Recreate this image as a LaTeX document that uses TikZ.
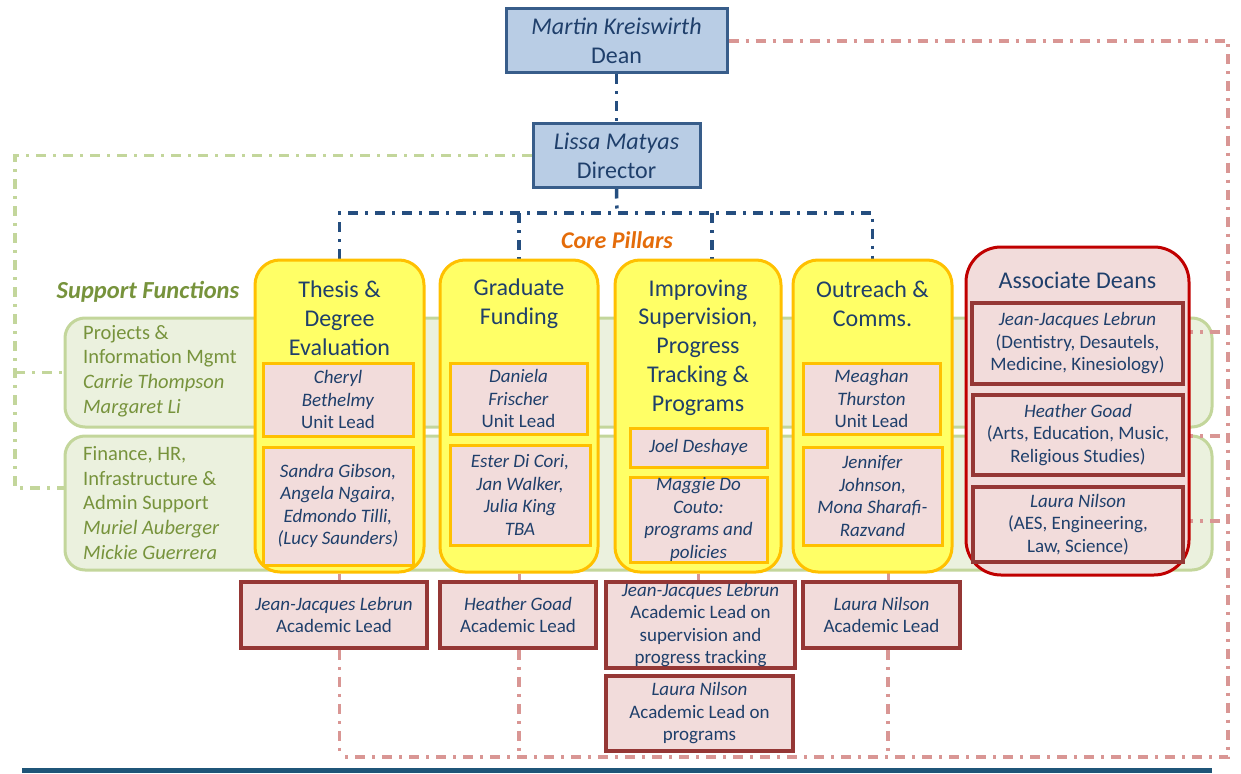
\documentclass[tikz,border=0pt]{standalone}
\usepackage{fontspec}
\setmainfont{Carlito}
\usetikzlibrary{calc}
\pgfdeclarelayer{back}
\pgfdeclarelayer{mid}
\pgfsetlayers{back,mid,main}
\definecolor{txt}{HTML}{1F3F6B}
\definecolor{bfill}{HTML}{B9CDE5}
\definecolor{bbord}{HTML}{385D8A}
\definecolor{gfill}{HTML}{EBF1DE}
\definecolor{gbord}{HTML}{C3D69B}
\definecolor{gtxt}{HTML}{77933C}
\definecolor{yfill}{HTML}{FFFF66}
\definecolor{ybord}{HTML}{FFC000}
\definecolor{pfill}{HTML}{F2DCDB}
\definecolor{adred}{HTML}{C00000}
\definecolor{dred}{HTML}{953735}
\definecolor{rline}{HTML}{D99694}
\definecolor{bline}{HTML}{254E7F}
\definecolor{orng}{HTML}{E46C0A}
\definecolor{barc}{HTML}{1F5578}
\begin{document}
\begin{tikzpicture}[x=1pt,y=-1pt,
  topbox/.style={draw=bbord,fill=bfill,line width=3pt,inner sep=0pt,text=txt,align=center,font=\fontsize{24}{29}\selectfont},
  supbox/.style={draw=gbord,fill=gfill,line width=3pt,rounded corners=20pt,inner sep=0pt},
  suptext/.style={text=gtxt,align=left,font=\fontsize{20.5}{24.6}\selectfont,anchor=west,inner sep=0pt},
  pillar/.style={draw=ybord,fill=yfill,line width=3pt,rounded corners=25pt,inner sep=0pt},
  ptitle/.style={text=txt,align=center,font=\fontsize{24}{28.8}\selectfont,inner sep=0pt},
  ibox/.style={draw=ybord,fill=pfill,line width=3pt,inner sep=0pt,text=txt,align=center,font=\fontsize{19}{22.5}\selectfont},
  adbox/.style={draw=adred,fill=pfill,line width=3pt,rounded corners=35pt,inner sep=0pt},
  rbox/.style={draw=dred,fill=pfill,line width=3.5pt,inner sep=0pt,text=txt,align=center,font=\fontsize{19}{22.5}\selectfont},
  bl/.style={draw=bline,line width=3.5pt,dash pattern=on 10pt off 7pt on 3pt off 7pt},
  rl/.style={draw=rline,line width=3.5pt,dash pattern=on 10pt off 7pt on 3pt off 7pt},
  gl/.style={draw=gbord,line width=3.5pt,dash pattern=on 10pt off 7pt on 3pt off 7pt},
  rs/.style={draw=rline,line width=3pt}
]
\useasboundingbox (0,0) rectangle (1241,773);

% top boxes
\node[topbox,minimum width=221pt,minimum height=64pt] (dean) at (616.5,41) {\textit{Martin Kreiswirth}\\Dean};
\node[topbox,minimum width=167pt,minimum height=63pt] (dir) at (616.5,155.5) {\textit{Lissa Matyas}\\Director};

% support functions
\begin{pgfonlayer}{back}
\node[supbox,minimum width=1147pt,minimum height=109pt] (proj) at (638.5,372.5) {};
\node[supbox,minimum width=1147pt,minimum height=134pt] (fin) at (638.5,503) {};
\end{pgfonlayer}
\node[suptext] (projt) at (83,371) {Projects \&\\Information Mgmt\\\textit{Carrie Thompson}\\\textit{Margaret Li}};
\node[suptext] (fint) at (83,503) {Finance, HR,\\Infrastructure \&\\Admin Support\\\textit{Muriel Auberger}\\\textit{Mickie Guerrera}};
\node[text=gtxt,font=\fontsize{24.5}{28}\selectfont\bfseries\itshape,inner sep=0pt] (supf) at (148,292) {Support Functions};
\node[text=orng,font=\fontsize{24}{28}\selectfont\bfseries\itshape,inner sep=0pt] (core) at (617,240) {Core Pillars};

% pillars
\node[pillar,minimum width=169pt,minimum height=312pt] (thesis) at (339.5,416) {};
\node[pillar,minimum width=158pt,minimum height=312pt] (grad) at (519,416) {};
\node[pillar,minimum width=166pt,minimum height=312pt] (imp) at (698,416) {};
\node[pillar,minimum width=159pt,minimum height=312pt] (out) at (872.5,416) {};
\node[ptitle] (thesist) at (339.5,318) {Thesis \&\\Degree\\Evaluation};
\node[ptitle] (gradt) at (519,304) {Graduate\\Funding};
\node[ptitle] (impt) at (698,347.5) {Improving\\Supervision,\\Progress\\Tracking \&\\Programs};
\node[ptitle] (outt) at (872.5,303.5) {Outreach \&\\Comms.};

% pillar inner boxes
\node[ibox,minimum width=150pt,minimum height=73pt] (cheryl) at (338,399.5) {\textit{Cheryl}\\\textit{Bethelmy}\\Unit Lead};
\node[ibox,minimum width=150pt,minimum height=118pt] (sandra) at (338,506) {\textit{Sandra Gibson,}\\\textit{Angela Ngaira,}\\\textit{Edmondo Tilli,}\\\textit{(Lucy Saunders)}};
\node[ibox,minimum width=137pt,minimum height=71pt] (daniela) at (518.5,398.5) {\textit{Daniela}\\\textit{Frischer}\\Unit Lead};
\node[ibox,minimum width=140pt,minimum height=100pt] (ester) at (520,495) {\textit{Ester Di Cori,}\\\textit{Jan Walker,}\\\textit{Julia King}\\\textit{TBA}};
\node[ibox,minimum width=137pt,minimum height=39pt] (joel) at (698.5,447.5) {\textit{Joel Deshaye}};
\node[ibox,minimum width=137pt,minimum height=85pt] (maggie) at (698.5,519.5) {\textit{Maggie Do}\\\textit{Couto:}\\\textit{programs and}\\\textit{policies}};
\node[ibox,minimum width=137pt,minimum height=71pt] (meaghan) at (871.5,398.5) {\textit{Meaghan}\\\textit{Thurston}\\Unit Lead};
\node[ibox,minimum width=139pt,minimum height=98pt] (jennifer) at (872.5,496) {\textit{Jennifer}\\\textit{Johnson,}\\\textit{Mona Sharafi-}\\\textit{Razvand}};

% associate deans
\node[adbox,minimum width=223pt,minimum height=328pt] (ad) at (1077.5,411) {};
\node[ptitle] (adt) at (1077.5,280) {Associate Deans};
\node[rbox,line width=4pt,minimum width=211pt,minimum height=81pt] (adjjl) at (1077.5,343.5) {\textit{Jean-Jacques Lebrun}\\(Dentistry, Desautels,\\Medicine, Kinesiology)};
\node[rbox,line width=4pt,minimum width=210pt,minimum height=80pt] (adhg) at (1078,435) {\textit{Heather Goad}\\(Arts, Education, Music,\\Religious Studies)};
\node[rbox,line width=4pt,minimum width=210pt,minimum height=75pt] (adln) at (1078,524.5) {\textit{Laura Nilson}\\(AES, Engineering,\\Law, Science)};

% academic leads
\node[rbox,minimum width=186pt,minimum height=66pt] (al1) at (334,615) {\textit{Jean-Jacques Lebrun}\\Academic Lead};
\node[rbox,minimum width=156pt,minimum height=66pt] (al2) at (518,615) {\textit{Heather Goad}\\Academic Lead};
\node[rbox,minimum width=189pt,minimum height=86pt] (al3) at (700.5,625) {\textit{Jean-Jacques Lebrun}\\Academic Lead on\\supervision and\\progress tracking};
\node[rbox,minimum width=187pt,minimum height=75pt] (al4) at (699.5,713.5) {\textit{Laura Nilson}\\Academic Lead on\\programs};
\node[rbox,minimum width=157pt,minimum height=66pt] (al5) at (881.5,615) {\textit{Laura Nilson}\\Academic Lead};

% coordinates
\coordinate (hub) at (617,213);
\coordinate (impdrop) at (712,258.5);
\coordinate (rtop) at (1228,41);
\coordinate (rbot) at (1228,757);
\coordinate (lbot) at (340,757);
\coordinate (g1) at (15,155.5);
\coordinate (g2) at (15,488);
\coordinate (odrop) at (888,572);
\coordinate (s1) at (1183,332);
\coordinate (s2) at (1183,436);
\coordinate (s3) at (1183,521);

\begin{pgfonlayer}{mid}
% blue hierarchy
\draw[bl] (dean.south) -- (dir.south |- dir.north);
\draw[bl] (dir.south) -- (hub);
\draw[bl] (thesis.north) |- (out.north |- hub) -- (out.north);
\draw[bl] (grad.north |- hub) -- (grad.north);
\draw[bl] (impdrop |- hub) -- (impdrop);
% green support line
\draw[gl] (dir.west) -- (g1) -- (g2) -- (g2 -| fin.west);
\draw[gl] (proj.west -| g1) -- (proj.west);
% red associate dean line
\draw[rl] (dean.east) -- (rtop) -- (rbot) -- (lbot);
\draw[rl] (s1) -- (s1 -| rtop);
\draw[rl] (s2) -- (s2 -| rtop);
\draw[rl] (s3) -- (s3 -| rtop);
\draw[rl] (thesis.south |- al1.south) -- (thesis.south |- lbot);
\draw[rl] (grad.south |- al2.south) -- (grad.south |- lbot);
\draw[rl] (odrop |- al5.south) -- (odrop |- lbot);
% solid stubs pillar -> academic lead
\draw[rs] (thesis.south) -- (thesis.south |- al1.north);
\draw[rs] (grad.south) -- (grad.south |- al2.north);
\draw[rs] (imp.south) -- (imp.south |- al3.north);
\draw[rs] (odrop) -- (odrop |- al5.north);
\end{pgfonlayer}

% bottom bar
\draw[barc,line width=5pt] (22,770) -- (1212,770);
\end{tikzpicture}
\end{document}
